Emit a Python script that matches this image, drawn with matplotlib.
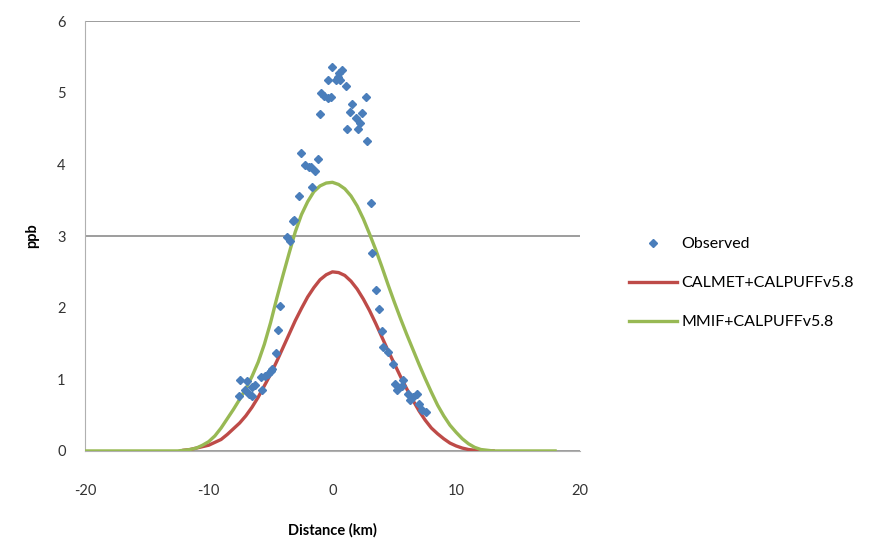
import matplotlib.pyplot as plt

# Observed concentrations along the sampling arc
obs_x = [0.0, 0.79, 0.57, 0.43, -0.38, 0.3, 0.63, 1.06, -0.92, -0.65, -0.38, -0.1,
         2.69, 1.61, 1.44, 2.42, -0.98, 1.88, 2.26, 1.2, 2.07, 2.83, -2.53, -1.2,
         -2.2, -1.93, -1.74, -1.39, -1.66, -2.69, 3.08, -3.18, -3.1, -3.65, -3.45,
         3.24, 3.51, 3.73, -4.27, -4.43, -4.6, -4.87, -5.0, -5.2, -5.41, -5.74,
         -7.43, -6.91, -6.23, -6.5, -7.1, -5.69, -6.78, -7.59, -6.5, 3.97, 4.11,
         4.51, 4.92, 5.06, 5.2, 5.74, 5.61, 6.15, 6.83, 6.51, 6.97, 7.25, 7.59, 6.29]
obs_y = [5.36, 5.32, 5.27, 5.22, 5.18, 5.18, 5.18, 5.10, 4.99, 4.95, 4.93, 4.94,
         4.94, 4.84, 4.73, 4.72, 4.70, 4.65, 4.58, 4.49, 4.49, 4.33, 4.16, 4.08,
         3.99, 3.97, 3.96, 3.91, 3.68, 3.56, 3.46, 3.21, 3.23, 2.98, 2.93,
         2.77, 2.24, 1.98, 2.02, 1.69, 1.37, 1.14, 1.11, 1.07, 1.04, 1.03,
         0.99, 0.98, 0.92, 0.89, 0.85, 0.85, 0.80, 0.77, 0.77, 1.68, 1.45,
         1.38, 1.21, 0.93, 0.85, 0.99, 0.90, 0.80, 0.80, 0.76, 0.66, 0.57, 0.55, 0.71]

# CALMET+CALPUFF receptors
calmet_x = [-12, -11.5, -11, -10.5, -10, -9.5, -9, -8.5, -8, -7.5, -7, -6.5, -6, -5.5,
            -5, -4.5, -4, -3.5, -3, -2.5, -2, -1.5, -1, -0.5, 0, 0.5, 1, 1.5, 2, 2.5,
            3, 3.5, 4, 4.5, 5, 5.5, 6, 6.5, 7, 7.5, 8, 8.5, 9, 9.5, 10, 10.5, 11,
            11.5, 12, 12.5, 13]
calmet_y = [0.01, 0.02, 0.04, 0.06, 0.08, 0.12, 0.16, 0.23, 0.31, 0.39, 0.49, 0.61,
            0.75, 0.91, 1.07, 1.25, 1.44, 1.63, 1.82, 1.99, 2.15, 2.28, 2.39, 2.46,
            2.50, 2.49, 2.45, 2.37, 2.26, 2.12, 1.96, 1.78, 1.59, 1.40, 1.22, 1.04,
            0.87, 0.71, 0.56, 0.43, 0.32, 0.24, 0.17, 0.11, 0.07, 0.04, 0.02, 0.01,
            0.0, 0.0, 0.0]

# MMIF+CALPUFF receptors
mmif_x = [-20, -18, -16, -14, -13, -12.5, -12, -11.5, -11, -10.5, -10, -9.5, -9, -8.5,
          -8, -7.5, -7, -6.5, -6, -5.5, -5, -4.5, -4, -3.5, -3, -2.5, -2, -1.5, -1,
          -0.5, 0, 0.5, 1, 1.5, 2, 2.5, 3, 3.5, 4, 4.5, 5, 5.5, 6, 6.5, 7, 7.5, 8,
          8.5, 9, 9.5, 10, 10.5, 11, 11.5, 12, 12.5, 13, 14, 16, 18]
mmif_y = [0, 0, 0, 0, 0, 0.0, 0.01, 0.02, 0.04, 0.08, 0.13, 0.21, 0.32, 0.45,
          0.58, 0.72, 0.87, 1.04, 1.24, 1.49, 1.79, 2.13, 2.45, 2.76, 3.06, 3.30,
          3.48, 3.62, 3.70, 3.74, 3.75, 3.72, 3.66, 3.56, 3.42, 3.24, 3.03, 2.81,
          2.57, 2.32, 2.08, 1.85, 1.63, 1.42, 1.21, 1.01, 0.82, 0.64, 0.49, 0.36,
          0.26, 0.17, 0.10, 0.05, 0.02, 0.01, 0, 0, 0, 0]

plt.rcParams['font.family'] = ['Lato', 'DejaVu Sans']
plt.rcParams['axes.unicode_minus'] = False

fig = plt.figure(figsize=(8.9, 5.42), dpi=100)
ax = fig.add_axes([0.0955, 0.168, 0.556, 0.793])

ax.plot(obs_x, obs_y, linestyle='none', marker='D', markersize=3.6,
        color='#4A7EBB', label='Observed', zorder=4)
ax.plot(calmet_x, calmet_y, color='#BE4B48', linewidth=2.4, label='CALMET+CALPUFFv5.8', zorder=3)
ax.plot(mmif_x, mmif_y, color='#98B954', linewidth=2.4, label='MMIF+CALPUFFv5.8', zorder=3)

ax.set_xlim(-20, 20)
ax.set_ylim(0, 6)
ax.set_xticks([-20, -10, 0, 10, 20])
# gridlines every 3 ppb, labels every 1 ppb
ax.set_yticks([0, 3, 6])
ax.set_yticks([1, 2, 4, 5], minor=True)
ax.set_yticklabels(['1', '2', '4', '5'], minor=True)
ax.grid(axis='y', which='major', color='#8C8C8C', linewidth=1.2)
ax.tick_params(axis='y', which='both', length=0, pad=14, labelsize=10.5, colors='#333333')
ax.tick_params(axis='x', length=0, pad=24, labelsize=10.5, colors='#333333')

for side in ['top', 'right']:
    ax.spines[side].set_visible(False)
ax.spines['left'].set_color('#B0B0B0')
ax.spines['bottom'].set_color('#B0B0B0')

ax.set_xlabel('Distance (km)', fontweight='bold', fontsize=10.5, labelpad=18)
ax.set_ylabel('ppb', fontweight='bold', fontsize=10.5, labelpad=13)

ax.legend(loc='center left', bbox_to_anchor=(1.07, 0.39), frameon=False,
          fontsize=11.5, handlelength=3.0, labelspacing=1.55, handletextpad=0.3)

fig.savefig('out.png', dpi=100)
